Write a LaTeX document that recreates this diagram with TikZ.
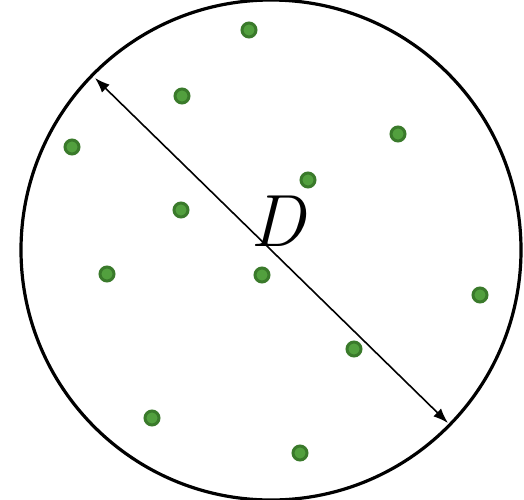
\documentclass[tikz,border=0pt]{standalone}
\usepackage{fontspec}
\usetikzlibrary{arrows.meta}
\definecolor{dotedge}{HTML}{3A7A2B}
\definecolor{dotfill}{HTML}{52A03E}
\begin{document}
\begin{tikzpicture}[x=1pt,y=-1pt,
  dot/.style={circle,draw=dotedge,fill=dotfill,line width=3pt,inner sep=0pt,minimum size=14pt},
  rim/.style={circle,draw=black,line width=3.2pt,inner sep=0pt,minimum size=500pt}]
\useasboundingbox (0,0) rectangle (524,499);
\node[rim] (c) at (271,250) {};
\coordinate (a) at (95,78);
\coordinate (b) at (448,423);
\draw[line width=1.6pt,{Latex[length=15pt,width=11pt]}-{Latex[length=15pt,width=11pt]}] (a) -- (b);
\node (lab) at (278,221) {\fontsize{74}{74}\selectfont\itshape D};
\foreach \n/\x/\y in {p1/249/30,p2/182/96,p3/398/134,p4/72/147,p5/308/180,p6/181/210,p7/107/274,p8/262/275,p9/480/295,p10/354/349,p11/152/418,p12/300/453}
  \node[dot] (\n) at (\x,\y) {};
\end{tikzpicture}
\end{document}
